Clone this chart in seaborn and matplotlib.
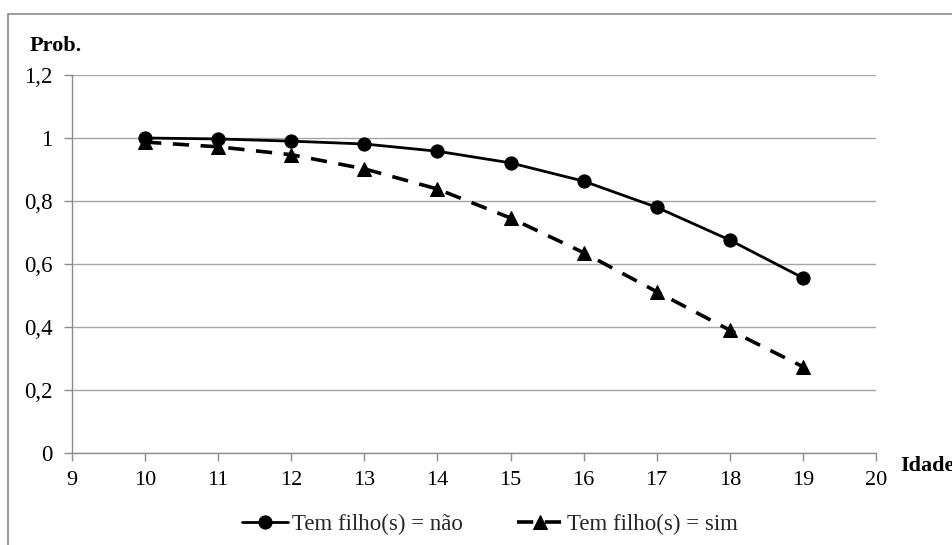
import matplotlib
matplotlib.use("Agg")
import matplotlib.pyplot as plt
import seaborn as sns
import pandas as pd
from matplotlib.lines import Line2D

idade = [10, 11, 12, 13, 14, 15, 16, 17, 18, 19]
prob_nao = [1.0, 0.997, 0.99, 0.981, 0.958, 0.921, 0.863, 0.780, 0.676, 0.556]
prob_sim = [0.987, 0.972, 0.947, 0.902, 0.838, 0.746, 0.636, 0.512, 0.390, 0.274]
label_nao = "Tem filho(s) = não"
label_sim = "Tem filho(s) = sim"
yticks = [0, 0.2, 0.4, 0.6, 0.8, 1.0, 1.2]
ytick_labels = ["0", "0,2", "0,4", "0,6", "0,8", "1", "1,2"]
xticks = list(range(9, 21))

sns.set_theme(style="white")
plt.rcParams["font.family"] = ["Liberation Serif", "DejaVu Serif"]

W, H = 953, 545
fig = plt.figure(figsize=(W / 100, H / 100), dpi=100)
ax = fig.add_axes([72 / W, (H - 453) / H, (876 - 72) / W, (453 - 75) / H])

df_nao = pd.DataFrame({"Idade": idade, "Prob": prob_nao})
df_sim = pd.DataFrame({"Idade": idade, "Prob": prob_sim})

sns.lineplot(data=df_nao, x="Idade", y="Prob", ax=ax, color="black",
             linewidth=2.0, marker="o", markersize=9.5, markeredgecolor="black",
             label=label_nao, zorder=3)
sns.lineplot(data=df_sim, x="Idade", y="Prob", ax=ax, color="black",
             linewidth=2.6, marker="^", markersize=9.5, markeredgecolor="black",
             dashes=False, linestyle=(0, (4.5, 3.2)), label=label_sim, zorder=3)

ax.set_xlim(9, 20)
ax.set_ylim(0, 1.2)
ax.set_xticks(xticks)
ax.set_xticklabels([str(t) for t in xticks], fontsize=16, color="black")
ax.set_yticks(yticks)
ax.set_yticklabels(ytick_labels, fontsize=16.5, color="black")
ax.grid(axis="y", color="#a6a6a6", linewidth=1.0)
ax.grid(axis="x", visible=False)
for s in ["top", "right"]:
    ax.spines[s].set_visible(False)
for s in ["left", "bottom"]:
    ax.spines[s].set_visible(True)
    ax.spines[s].set_color("#8c8c8c")
    ax.spines[s].set_linewidth(1.0)
ax.tick_params(axis="both", which="major", direction="out", length=6,
               width=1.0, color="#8c8c8c", bottom=True, left=True)
ax.tick_params(axis="x", pad=7)
ax.tick_params(axis="y", pad=8)
ax.set_xlabel("")
ax.set_ylabel("")
ax.get_legend().remove()

fig.text(30 / W, 1 - 46 / H, "Prob.", fontsize=16, fontweight="bold",
         ha="left", va="center", color="black")
fig.text(900 / W, 1 - 466 / H, "Idade", fontsize=16, fontweight="bold",
         ha="left", va="center", color="black")

# outer chart frame (top and left)
fig.add_artist(Line2D([8 / W, 1.0], [1 - 14 / H, 1 - 14 / H], color="#8c8c8c",
                      linewidth=1.2, transform=fig.transFigure))
fig.add_artist(Line2D([8 / W, 8 / W], [0, 1 - 14 / H], color="#8c8c8c",
                      linewidth=1.2, transform=fig.transFigure))

handles, labels = ax.get_legend_handles_labels()
fig.legend(handles, labels, loc="center", bbox_to_anchor=(490 / W, 1 - 524 / H),
           ncol=2, frameon=False, fontsize=16.5, handlelength=2.0,
           columnspacing=2.4, handletextpad=0.15)

fig.savefig("out.png", dpi=100)
